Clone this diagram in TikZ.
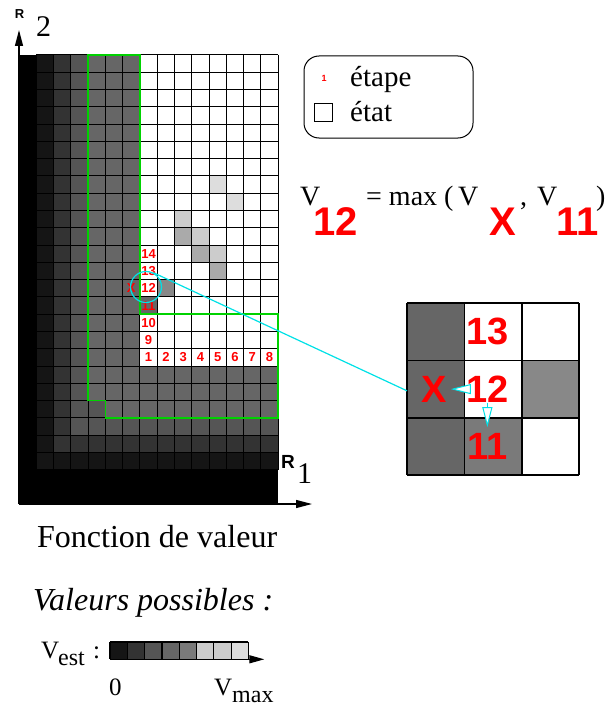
\documentclass[tikz,border=0pt]{standalone}
\usepackage{fontspec}
\setmainfont{Liberation Serif}
\setsansfont{Liberation Sans}
\usepackage{tikz}
\usetikzlibrary{arrows.meta, positioning}
\definecolor{vfred}{RGB}{255, 0, 0}
\definecolor{vfgreen}{RGB}{0, 210, 0}
\definecolor{vfcyan}{RGB}{0, 225, 230}
\definecolor{vfA}{RGB}{21, 21, 21}
\definecolor{vfB}{RGB}{51, 51, 51}
\definecolor{vfC}{RGB}{85, 85, 85}
\definecolor{vfD}{RGB}{102, 102, 102}
\definecolor{vfE}{RGB}{122, 122, 122}
\definecolor{vfF}{RGB}{136, 136, 136}
\definecolor{vfG}{RGB}{170, 170, 170}
\definecolor{vfH}{RGB}{204, 204, 204}
\definecolor{vfI}{RGB}{221, 221, 221}
\tikzset{
    gridrule/.style={line width=1pt, black},
    stepnum/.style={text=vfred, inner sep=0pt, font=\fontsize{13}{13}\sffamily\bfseries},
    bignum/.style={text=vfred, inner sep=0pt, font=\fontsize{40}{40}\sffamily\bfseries},
    txt/.style={inner sep=0pt, anchor=base west},
    zoomtip/.style={vfcyan, line width=1pt, -{Triangle[fill=white, length=20pt, width=10pt]}},
    axisline/.style={line width=1.3pt, -{Triangle[length=16pt, width=8pt]}},
}

\begin{document}
\begin{tikzpicture}[x=1pt, y=-1pt]
    \useasboundingbox (0,0) rectangle (605,706);

    \begin{scope}[shift={(19,55)}, x=17.28pt, y=-17.28pt]
      \fill[black] (0,0) rectangle (1,26);
      \fill[black] (0,24) rectangle (15,26);
      \fill[white] (1,0) rectangle (15,24);
      \fill[vfA] (1,0) rectangle (2,24);
      \fill[vfB] (2,0) rectangle (3,23);
      \fill[vfC] (3,0) rectangle (4,22);
      \fill[vfD] (4,0) rectangle (7,21);
      \fill[vfD] (7,18) rectangle (15,21);
      \fill[vfC] (4,20) rectangle (5,21);
      \fill[vfC] (3,21) rectangle (15,22);
      \fill[vfB] (2,22) rectangle (15,23);
      \fill[vfA] (1,23) rectangle (15,24);
      \foreach \i/\j/\c in {11/7/vfI, 12/8/vfI, 9/9/vfH, 9/10/vfG, 10/10/vfH,
                            10/11/vfG, 11/11/vfH, 11/12/vfG, 8/13/vfF, 7/14/vfD}
        \fill[\c] (\i,\j) rectangle ++(1,1);
      \foreach \i in {1,...,15}
        \draw[gridrule] (\i,0) -- (\i,24);
      \foreach \j in {0,...,24}
        \draw[gridrule] (1,\j) -- (15,\j);
      \draw[vfgreen, line width=1.5pt]
        (4,0) -- (7,0) -- (7,15) -- (15,15) -- (15,21) -- (5,21) -- (5,20) -- (4,20) -- cycle;
      \foreach \n/\j in {14/11, 13/12, 12/13, 11/14, 10/15, 9/16}
        \node[stepnum] (s\n) at (7.5,\j+0.5) {\n};
      \foreach \n in {1,...,8}
        \node[stepnum] (s\n) at (6.5+\n,17.5) {\n};
      \node[stepnum] (sx) at (6.5,13.5) {X};
    \end{scope}

    \node[draw=vfcyan, circle, line width=1.2pt, minimum size=31pt, inner sep=0pt] (focus) at (146,287) {};

    \coordinate (orig) at (19,504);
    \coordinate (r2end) at (19,30);
    \coordinate (r1end) at (312,504);
    \draw[axisline] (orig) -- (r2end);
    \draw[axisline] (orig) -- (r1end);
    \node[inner sep=0pt, anchor=base, font=\fontsize{13}{13}\sffamily\bfseries] (rtwo) at (19.5,19) {R};
    \node[txt, font=\fontsize{30}{30}\selectfont] (rtwonum) at (36,36.7) {2};
    \node[txt, font=\fontsize{19}{19}\sffamily\bfseries] (rone) at (281,468) {R};
    \node[txt, font=\fontsize{30}{30}\selectfont] (ronenum) at (297,483) {1};

    \begin{scope}[shift={(407,303)}, x=57.4pt, y=-57.4pt]
      \foreach \i/\j/\c in {0/0/vfD, 0/1/vfD, 0/2/vfD, 1/0/white, 1/1/white,
                            1/2/vfE, 2/0/white, 2/1/vfF, 2/2/white}
        \fill[\c] (\i,\j) rectangle ++(1,1);
      \foreach \k in {0,...,3}
        \draw[line width=1.5pt] (\k,0) -- (\k,3) (0,\k) -- (3,\k);
      \node[bignum, font=\fontsize{38}{38}\sffamily\bfseries] (in13) at (1.4,0.5) {13};
      \node[bignum, font=\fontsize{38}{38}\sffamily\bfseries] (in12) at (1.4,1.5) {12};
      \node[bignum, font=\fontsize{38}{38}\sffamily\bfseries] (in11) at (1.4,2.5) {11};
      \node[bignum, font=\fontsize{38}{38}\sffamily\bfseries] (inx) at (0.47,1.5) {X};
      \coordinate (inw) at (0,1.53);
    \end{scope}
    \draw[zoomtip, shorten >=4pt] (in12.west) -- (inx.east);
    \draw[zoomtip, shorten >=6pt] (in12.south) -- (in11.north);
    \draw[vfcyan, line width=1.2pt] (focus.62) -- (inw);

    \node[draw, rounded corners=15pt, line width=1pt,
          minimum width=169pt, minimum height=82pt] (legend) at (388.5,97) {};
    \node[inner sep=0pt, text=vfred, font=\fontsize{9}{9}\sffamily\bfseries] (legone) at (324,78) {1};
    \node[draw, line width=1pt, minimum size=18pt, inner sep=0pt] (legsq) at (323,112.5) {};
    \node[txt, font=\fontsize{29}{29}\selectfont] (legstep) at (350,87) {étape};
    \node[txt, font=\fontsize{29}{29}\selectfont] (legstate) at (350,121.7) {état};

    \node[txt, font=\fontsize{28}{28}\selectfont] (eqv) at (300,205) {V};
    \node[txt, bignum] (eqa) at (313,235) {12};
    \node[txt, font=\fontsize{28}{28}\selectfont] (eqmax) at (366,205) {= max (};
    \node[txt, font=\fontsize{28}{28}\selectfont] (eqvx) at (458,205) {V};
    \node[txt, bignum] (eqb) at (489,235) {X};
    \node[txt, font=\fontsize{28}{28}\selectfont] (eqcomma) at (520,205) {,};
    \node[txt, font=\fontsize{28}{28}\selectfont] (eqvy) at (537,205) {V};
    \node[txt, bignum] (eqc) at (556,235) {11};
    \node[txt, font=\fontsize{28}{28}\selectfont] (eqclose) at (596,205) {)};

    \node[txt, font=\fontsize{32}{32}\selectfont] (title) at (37,547) {Fonction de valeur};
    \node[txt, font=\fontsize{32}{32}\selectfont\itshape] (poss) at (33,610) {Valeurs possibles :};

    \begin{scope}[shift={(110,642)}, x=17.3pt, y=-17.3pt]
      \foreach \k/\c in {0/vfA, 1/vfB, 2/vfC, 3/vfD, 4/vfE, 5/vfH, 6/vfH, 7/vfI}
        \fill[\c] (\k,0) rectangle ++(1,1);
      \foreach \k in {0,...,8}
        \draw[line width=1.2pt] (\k,0) -- (\k,1);
      \draw[line width=1.2pt] (0,0) -- (8,0);
      \coordinate (barstart) at (0,1);
      \coordinate (barend) at (8.92,1);
    \end{scope}
    \draw[line width=1.3pt, -{Triangle[length=15pt, width=8pt]}] (barstart) -- (barend);
    \node[txt, font=\fontsize{25}{25}\selectfont] (vest) at (41,658) {V};
    \node[txt, font=\fontsize{24}{24}\selectfont] (vestsub) at (58,665) {est};
    \node[txt, font=\fontsize{25}{25}\selectfont] (vestcol) at (93,658) {:};
    \node[txt, font=\fontsize{25}{25}\selectfont] (vzero) at (109,695) {0};
    \node[txt, font=\fontsize{25}{25}\selectfont] (vmax) at (214,695) {V};
    \node[txt, font=\fontsize{24}{24}\selectfont] (vmaxsub) at (232,702) {max};
  \end{tikzpicture}
\end{document}
